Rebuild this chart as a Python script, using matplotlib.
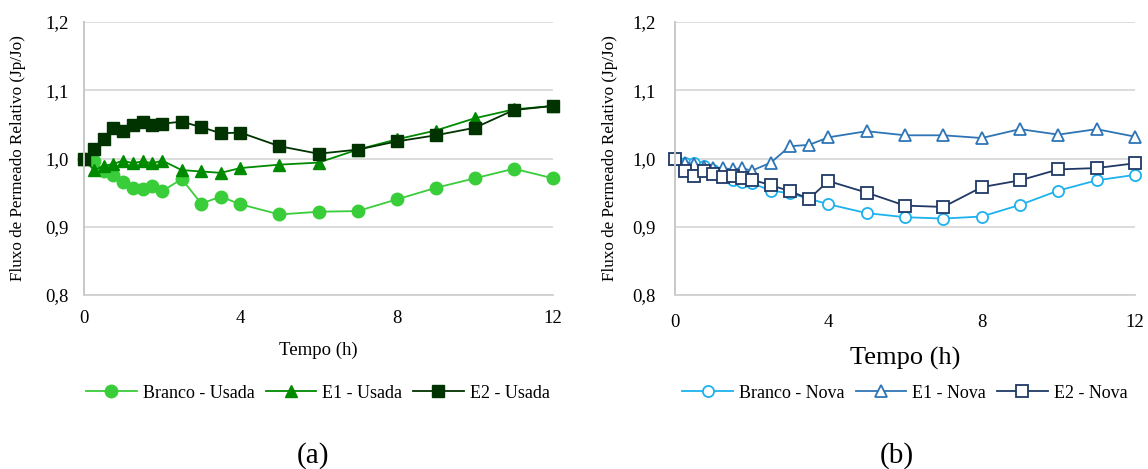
import matplotlib
matplotlib.use("Agg")
import matplotlib.pyplot as plt

plt.rcParams['font.family'] = ['Liberation Serif', 'DejaVu Serif']

tempo = [0, 0.25, 0.5, 0.75, 1.0, 1.25, 1.5, 1.75, 2.0, 2.5, 3, 3.5, 4, 5, 6, 7, 8, 9, 10, 11, 12]

branco_usada = [1.000, 0.997, 0.981, 0.976, 0.966, 0.957, 0.955, 0.960, 0.952, 0.970, 0.934, 0.944,
                0.933, 0.918, 0.922, 0.923, 0.940, 0.957, 0.971, 0.985, 0.971]
e1_usada = [1.000, 0.983, 0.989, 0.992, 0.997, 0.993, 0.996, 0.993, 0.997, 0.983, 0.981, 0.979,
            0.986, 0.991, 0.994, 1.013, 1.028, 1.041, 1.059, 1.072, 1.077]
e2_usada = [1.000, 1.014, 1.029, 1.044, 1.040, 1.049, 1.054, 1.049, 1.051, 1.054, 1.046, 1.037,
            1.038, 1.018, 1.007, 1.013, 1.025, 1.034, 1.045, 1.071, 1.077]

branco_nova = [1.000, 0.994, 0.993, 0.989, 0.983, 0.978, 0.969, 0.966, 0.964, 0.953, 0.949, 0.941,
               0.933, 0.920, 0.914, 0.912, 0.915, 0.932, 0.953, 0.968, 0.976]
e1_nova = [1.000, 0.994, 0.992, 0.988, 0.986, 0.986, 0.984, 0.986, 0.982, 0.994, 1.018, 1.020,
           1.031, 1.040, 1.034, 1.034, 1.030, 1.043, 1.035, 1.043, 1.032]
e2_nova = [1.000, 0.981, 0.974, 0.982, 0.977, 0.973, 0.974, 0.971, 0.969, 0.961, 0.952, 0.941,
           0.967, 0.950, 0.931, 0.929, 0.958, 0.968, 0.984, 0.986, 0.993]

xticks = [0, 4, 8, 12]
yticks = [0.8, 0.9, 1.0, 1.1, 1.2]
ytick_labels = ['0,8', '0,9', '1,0', '1,1', '1,2']

W, H = 1148, 469
fig = plt.figure(figsize=(W / 100, H / 100), dpi=100)
axL = fig.add_axes([84 / W, 1 - 295 / H, (553 - 84) / W, 273 / H])
axR = fig.add_axes([675 / W, 1 - 295 / H, (1135 - 675) / W, 273 / H])


def style(ax, ytick_pad, xtick_pad):
    ax.set_xlim(0, 12)
    ax.set_ylim(0.8, 1.2)
    ax.set_xticks(xticks)
    ax.set_yticks(yticks)
    ax.set_yticklabels(ytick_labels)
    ax.tick_params(length=0, labelsize=13.5)
    ax.tick_params(axis='y', pad=ytick_pad)
    ax.tick_params(axis='x', pad=xtick_pad)
    ax.grid(axis='y', color='#d9d9d9', linewidth=1.3)
    ax.set_axisbelow(True)
    for s in ['top', 'right']:
        ax.spines[s].set_visible(False)
    ax.spines['left'].set_color('#c8c8c8')
    ax.spines['bottom'].set_color('#d0d0d0')
    ax.spines['left'].set_linewidth(1.4)
    ax.spines['bottom'].set_linewidth(1.3)
    ax.set_ylabel('Fluxo de Permeado Relativo (Jp/Jo)', fontsize=12.3)
    ax.yaxis.set_label_coords(-0.141, 0.5)
    ax.yaxis.label.set_va('center')


# Left panel
axL.plot(tempo, branco_usada, '-o', color='#3ACD3A', lw=1.3, ms=9, label='Branco - Usada', clip_on=False)
axL.plot(tempo, e1_usada, '-^', color='#008A00', lw=1.3, ms=9, label='E1 - Usada', clip_on=False)
axL.plot(tempo, e2_usada, '-s', color='#003300', lw=1.3, ms=8.5, label='E2 - Usada', clip_on=False)
style(axL, 11, 11)
axL.set_xlabel('Tempo (h)', fontsize=13.5)
axL.xaxis.set_label_coords(0.5, (295 - 350) / 273)
axL.xaxis.label.set_va('center')
axL.legend(loc='center', bbox_to_anchor=(318 / W, 1 - 393 / H), bbox_transform=fig.transFigure,
           ncol=3, frameon=False, fontsize=13, handlelength=2.8, columnspacing=0.6, handletextpad=0.35)

# Right panel
axR.plot(tempo, branco_nova, '-o', color='#1DB2EE', lw=1.3, ms=8, mfc='white', mew=1.3, label='Branco - Nova', clip_on=False)
axR.plot(tempo, e1_nova, '-^', color='#2E75B6', lw=1.3, ms=8.5, mfc='white', mew=1.3, label='E1 - Nova', clip_on=False)
axR.plot(tempo, e2_nova, '-s', color='#1F3864', lw=1.3, ms=8.5, mfc='white', mew=1.3, label='E2 - Nova', clip_on=False)
style(axR, 14, 14)
axR.set_xlabel('Tempo (h)', fontsize=19)
axR.xaxis.set_label_coords(0.5, (295 - 358) / 273)
axR.xaxis.label.set_va('center')
axR.legend(loc='center', bbox_to_anchor=(905 / W, 1 - 393 / H), bbox_transform=fig.transFigure,
           ncol=3, frameon=False, fontsize=13, handlelength=2.8, columnspacing=0.6, handletextpad=0.35)

fig.text(313 / W, 1 - 456 / H, '(a)', fontsize=21, ha='center', va='center')
fig.text(897 / W, 1 - 456 / H, '(b)', fontsize=21, ha='center', va='center')

fig.savefig('out.png', dpi=100)
